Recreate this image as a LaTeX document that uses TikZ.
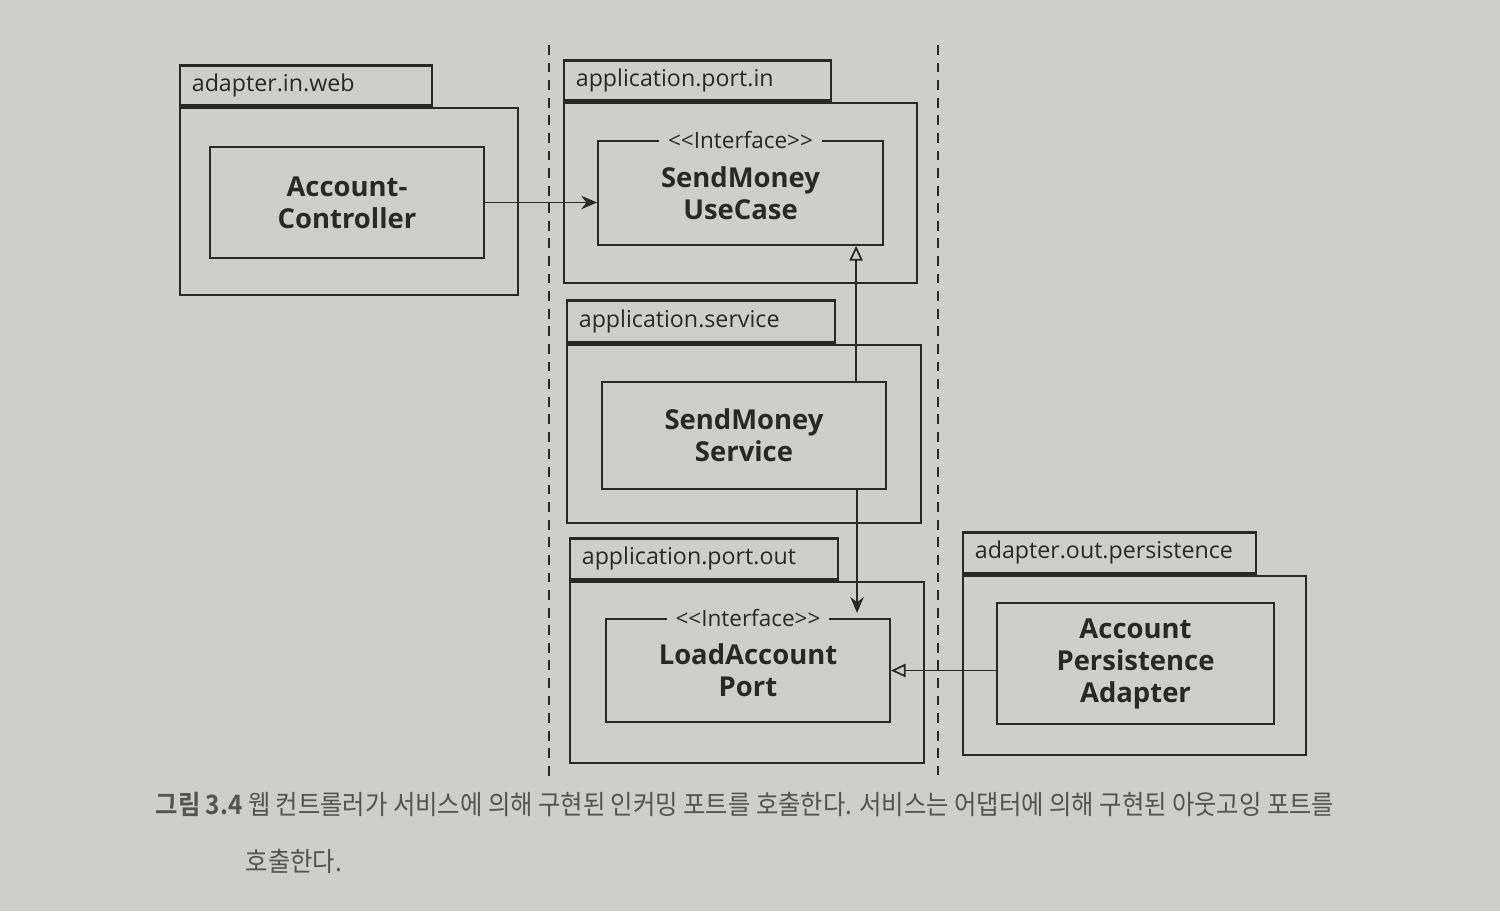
\documentclass[tikz,border=0pt]{standalone}
\usepackage{fontspec}
\setmainfont{Open Sans}
\newfontfamily\cjk[FakeStretch=0.91,BoldFont={Noto Sans CJK KR Bold}]{Noto Sans CJK KR}
\usetikzlibrary{arrows.meta,positioning}
\definecolor{paper}{RGB}{206,206,204}
\definecolor{ink}{RGB}{40,40,40}
\begin{document}
\begin{tikzpicture}[x=0.01cm,y=-0.01cm,
    pkg/.style={draw=ink,line width=0.75pt,inner sep=0pt},
    pkgtab/.style={draw=ink,line width=0.75pt,inner sep=0pt,anchor=south west,
        text=ink,align=left,font=\fontsize{6.6}{7.5}\selectfont},
    cls/.style={draw=ink,line width=0.45pt,inner sep=0pt,align=center,text=ink,
        font=\bfseries\fontsize{7.8}{9.1}\selectfont},
    stereo/.style={fill=paper,inner xsep=2.5pt,inner ysep=1pt,text=ink,
        font=\fontsize{6.4}{7}\selectfont},
    call/.style={draw=ink,line width=0.5pt,-{Stealth[length=4.5pt,width=3.8pt]}},
    impl/.style={draw=ink,line width=0.5pt,-{Triangle[open,length=4.2pt,width=3.8pt]}},
    layer/.style={draw=ink,line width=0.8pt,dash pattern=on 2.8pt off 2.2pt}]
    \fill[paper] (0,0) rectangle (1500,911);
    \useasboundingbox (0,0) rectangle (1500,911);
    \draw[layer] (549,45) -- (549,780);
    \draw[layer] (938,45) -- (938,775);
    \node[pkg,minimum width=3.38cm,minimum height=1.87cm] (web) at (349,201.5) {};
    \node[pkgtab,minimum width=2.52cm,minimum height=0.40cm,text width=2.52cm] (webtab) at (web.north west) {\hspace*{3.4pt}adapter.in.web};
    \node[cls,minimum width=2.74cm,minimum height=1.11cm] (ctrl) at (347,202.5) {Account-\\Controller};
    \node[pkg,minimum width=3.53cm,minimum height=1.80cm] (portin) at (740.5,193) {};
    \node[pkgtab,minimum width=2.67cm,minimum height=0.40cm,text width=2.67cm] (portintab) at (portin.north west) {\hspace*{3.4pt}application.port.in};
    \node[cls,minimum width=2.85cm,minimum height=1.04cm] (usecase) at (740.5,193) {SendMoney\\UseCase};
    \node[stereo] (usecaseif) at (usecase.north) {<{}<Interface>{}>};
    \node[pkg,minimum width=3.54cm,minimum height=1.78cm] (svc) at (744,434) {};
    \node[pkgtab,minimum width=2.68cm,minimum height=0.42cm,text width=2.68cm] (svctab) at (svc.north west) {\hspace*{3.4pt}application.service};
    \node[cls,minimum width=2.84cm,minimum height=1.07cm] (service) at (744,435.5) {SendMoney\\Service};
    \node[pkg,minimum width=3.54cm,minimum height=1.81cm] (portout) at (747,672.5) {};
    \node[pkgtab,minimum width=2.68cm,minimum height=0.41cm,text width=2.68cm] (portouttab) at (portout.north west) {\hspace*{3.4pt}application.port.out};
    \node[cls,minimum width=2.84cm,minimum height=1.03cm] (port) at (748,670.5) {LoadAccount\\Port};
    \node[stereo] (portif) at (port.north) {<{}<Interface>{}>};
    \node[pkg,minimum width=3.43cm,minimum height=1.79cm] (pers) at (1134.5,665.5) {};
    \node[pkgtab,minimum width=2.93cm,minimum height=0.41cm,text width=2.93cm] (perstab) at (pers.north west) {\hspace*{3.4pt}adapter.out.persistence};
    \node[cls,minimum width=2.77cm,minimum height=1.21cm] (adapter) at (1135.5,663.5) {Account\\Persistence\\Adapter};
    \draw[call] (ctrl.east) -- (ctrl.east -| usecase.west);
    \draw[impl] ([xshift=1.12cm]service.north) -- ([xshift=1.12cm]service.north |- usecase.south);
    \draw[call,shorten >=1.5pt] ([xshift=1.13cm]service.south) -- ([xshift=1.13cm]service.south |- port.north);
    \draw[impl] (port.east -| adapter.west) -- (port.east);
    \node[anchor=base west,inner sep=0pt,text=ink!80,font=\cjk\fontsize{7.6}{8.5}\selectfont] (cap1) at (155,814)
        {\textbf{그림 3.4} 웹 컨트롤러가 서비스에 의해 구현된 인커밍 포트를 호출한다. 서비스는 어댑터에 의해 구현된 아웃고잉 포트를};
    \node[anchor=base west,inner sep=0pt,text=ink!80,font=\cjk\fontsize{7.6}{8.5}\selectfont] (cap2) at (245,871) {호출한다.};
\end{tikzpicture}
\end{document}
